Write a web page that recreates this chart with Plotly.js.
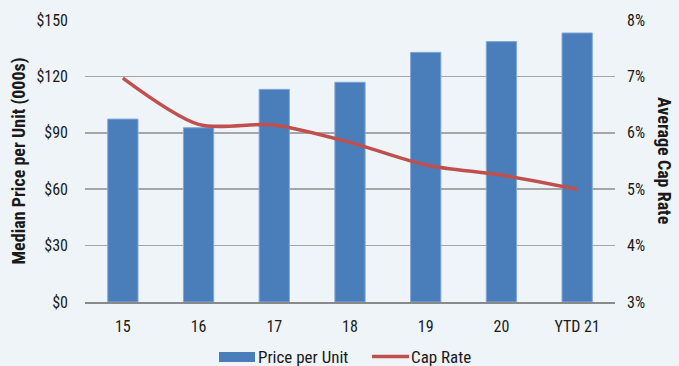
<!DOCTYPE html>
<html>
<head>
<meta charset="utf-8">
<script src="https://cdn.plot.ly/plotly-3.0.1.min.js"></script>
<style>html,body{margin:0;padding:0;background:#eff4f9;}#chart{width:679px;height:366px;}</style>
</head>
<body>
<div id="chart"></div>
<script>
const categories = ["15", "16", "17", "18", "19", "20", "YTD 21"];
const pricePerUnit = [97.3, 92.7, 113.1, 116.9, 132.8, 138.5, 143.1];
const capRate = [6.97, 6.15, 6.14, 5.83, 5.43, 5.25, 5.0];
const leftTicks = [0, 30, 60, 90, 120, 150];
const leftTickText = ["$0", "$30", "$60", "$90", "$120", "$150"];
const rightTicks = [3, 4, 5, 6, 7, 8];
const rightTickText = ["3%", "4%", "5%", "6%", "7%", "8%"];
const seriesNames = ["Price per Unit", "Cap Rate"];

const FONT = "'Liberation Sans Narrow', 'Arial Narrow', 'Roboto Condensed', sans-serif";
const BAR = "#4a7ebb", LINE = "#c0504d", TXT = "#1a1a1a";

const traces = [
  {
    type: "bar", name: seriesNames[0], x: categories, y: pricePerUnit,
    marker: {color: BAR, line: {color: "#82a8d8", width: 1}},
    width: 0.4, yaxis: "y", showlegend: false
  },
  {
    type: "scatter", mode: "lines", name: seriesNames[1], x: categories, y: capRate,
    line: {color: LINE, width: 3.5, shape: "spline", smoothing: 0.8},
    yaxis: "y2", showlegend: false
  }
];

// plot area: x 85..615, y 20..302
const px = v => (v - 85) / 530;
const py = v => (302 - v) / 282;

const layout = {
  width: 679, height: 366,
  paper_bgcolor: "#eff4f9", plot_bgcolor: "#eff4f9",
  margin: {l: 85, r: 64, t: 20, b: 64, autoexpand: false},
  font: {family: FONT, size: 16, color: TXT},
  showlegend: false,
  xaxis: {
    type: "category", showgrid: false, zeroline: false,
    showline: true, linecolor: "#8a8a8a", linewidth: 2,
    ticks: "", tickfont: {family: FONT, size: 16, color: TXT},
    ticklabelstandoff: 9
  },
  yaxis: {
    range: [0, 150], tickvals: leftTicks, ticktext: leftTickText,
    showgrid: true, gridcolor: "#a6a6a6", gridwidth: 1.5,
    zeroline: false, showline: false, ticks: "",
    tickfont: {family: FONT, size: 16, color: TXT},
    ticklabelstandoff: 16,
    title: {text: "<b>Median Price per Unit (000s)</b>", font: {family: FONT, size: 18, color: TXT}, standoff: 6}
  },
  yaxis2: {
    range: [3, 8], tickvals: rightTicks, ticktext: rightTickText,
    overlaying: "y", side: "right", showgrid: false, zeroline: false,
    showline: false, ticks: "",
    tickfont: {family: FONT, size: 16, color: TXT},
    ticklabelstandoff: 11
  },
  shapes: [
    {type: "rect", xref: "paper", yref: "paper", x0: px(219), x1: px(255), y0: py(362), y1: py(352),
     fillcolor: BAR, line: {width: 0}},
    {type: "line", xref: "paper", yref: "paper", x0: px(372), x1: px(409), y0: py(356.5), y1: py(356.5),
     line: {color: LINE, width: 3.5}}
  ],
  annotations: [
    {text: "<b>Average Cap Rate</b>", xref: "paper", yref: "paper", x: 1.0, xshift: 50, y: 0.5,
     textangle: 90, showarrow: false, font: {family: FONT, size: 18, color: TXT},
     xanchor: "center", yanchor: "middle"},
    {text: seriesNames[0], xref: "paper", yref: "paper", x: px(256), y: py(357),
     xanchor: "left", yanchor: "middle", showarrow: false,
     font: {family: FONT, size: 17, color: TXT}},
    {text: seriesNames[1], xref: "paper", yref: "paper", x: px(409), y: py(357),
     xanchor: "left", yanchor: "middle", showarrow: false,
     font: {family: FONT, size: 17, color: TXT}}
  ]
};

Plotly.newPlot("chart", traces, layout, {displayModeBar: false, staticPlot: true});
</script>
</body>
</html>
